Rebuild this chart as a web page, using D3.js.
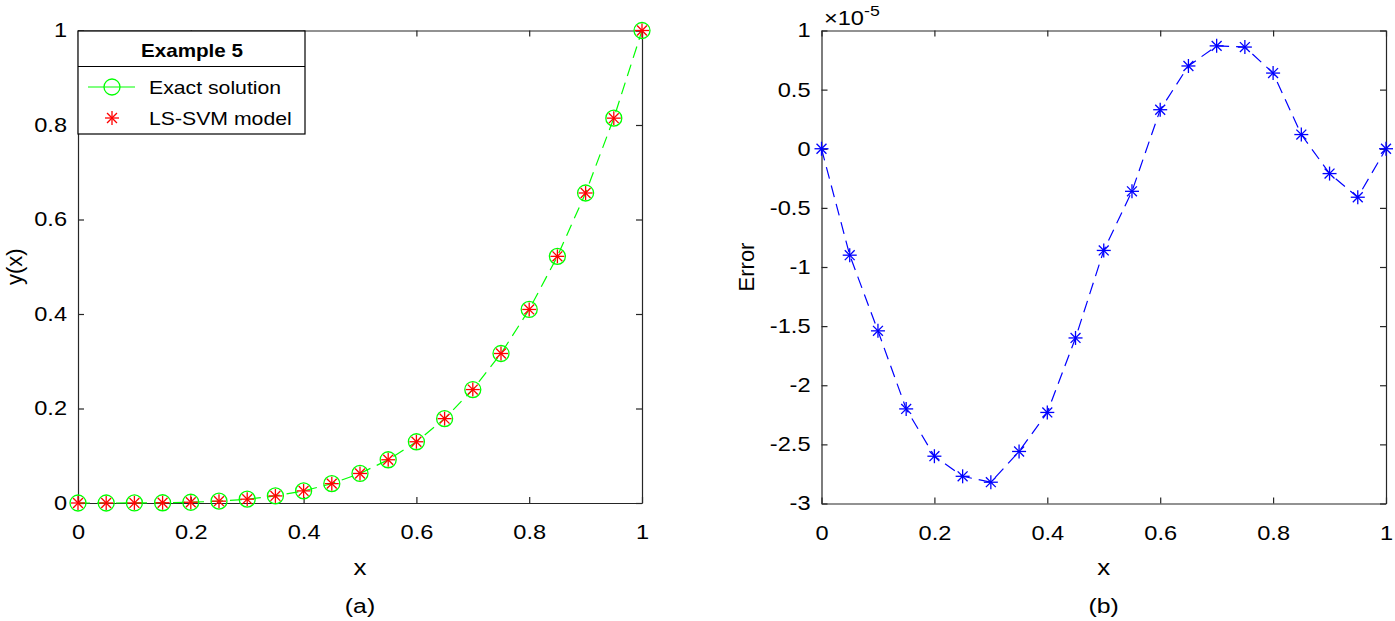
<html>
<head>
<meta charset="utf-8">
<script src="https://d3js.org/d3.v7.min.js"></script>
<style>
  body { margin: 0; background: #fff; }
  svg text { font-family: "Liberation Sans", Arial, sans-serif; fill: #000; }
</style>
</head>
<body>
<script>
var xs = [0, 0.05, 0.1, 0.15, 0.2, 0.25, 0.3, 0.35, 0.4, 0.45, 0.5, 0.55, 0.6, 0.65, 0.7, 0.75, 0.8, 0.85, 0.9, 0.95, 1];
var exactY = [0, 0.0000063, 0.0001, 0.0005, 0.0016, 0.0039, 0.0081, 0.015, 0.0256, 0.041, 0.0625, 0.0915, 0.1296, 0.1785, 0.2401, 0.3164, 0.4096, 0.522, 0.6561, 0.8145, 1];
var svmY = exactY.slice(); // model coincides with exact at plot scale
var errY = [0, -0.9, -1.54, -2.2, -2.6, -2.77, -2.82, -2.56, -2.23, -1.6, -0.86, -0.36, 0.33, 0.7, 0.87, 0.86, 0.64, 0.12, -0.21, -0.41, 0];
var xTicks = [0, 0.2, 0.4, 0.6, 0.8, 1];
var yTicksA = [0, 0.2, 0.4, 0.6, 0.8, 1];
var yTicksB = [-3, -2.5, -2, -1.5, -1, -0.5, 0, 0.5, 1];

var svg = d3.select("body").append("svg").attr("width", 1395).attr("height", 621);
var axisColor = "#262626";
var SX = 1.18; // glyphs in the reference are a bit wider than Liberation Sans

// widen a horizontal text around its own x anchor
function stretch(sel) {
  sel.each(function() {
    var t = d3.select(this);
    var x0 = +t.attr("x") || 0;
    t.attr("transform", "translate(" + x0 + ",0) scale(" + SX + ",1) translate(" + (-x0) + ",0)");
  });
}

function panel(left, right, top, bottom, yDomain, yTicks, xLab, yLab, cap, yLabX) {
  var x = d3.scaleLinear().domain([0, 1]).range([left, right]);
  var y = d3.scaleLinear().domain(yDomain).range([bottom, top]);
  var g = svg.append("g");
  var fmt = function(d) { return String(+d.toFixed(2)); };
  var ax = g.append("g").attr("transform", "translate(0," + bottom + ")")
    .call(d3.axisBottom(x).tickValues(xTicks).tickSizeInner(-6).tickSizeOuter(0).tickPadding(22).tickFormat(fmt));
  var ay = g.append("g").attr("transform", "translate(" + left + ",0)")
    .call(d3.axisLeft(y).tickValues(yTicks).tickSizeInner(-6).tickSizeOuter(0).tickPadding(11).tickFormat(fmt));
  var at = g.append("g").attr("transform", "translate(0," + top + ")")
    .call(d3.axisTop(x).tickValues(xTicks).tickSizeInner(-6).tickSizeOuter(0).tickFormat(""));
  var ar = g.append("g").attr("transform", "translate(" + right + ",0)")
    .call(d3.axisRight(y).tickValues(yTicks).tickSizeInner(-6).tickSizeOuter(0).tickFormat(""));
  [ax, ay, at, ar].forEach(function(a) {
    a.selectAll("path.domain").attr("stroke", axisColor).attr("stroke-width", 1.2);
    a.selectAll("line").attr("stroke", axisColor).attr("stroke-width", 1.2);
    a.selectAll("text").attr("font-size", 20).attr("fill", "#000")
      .style("font-family", "'Liberation Sans', Arial, sans-serif");
  });
  ax.selectAll("text").attr("dy", "0.71em").attr("y", 22);
  stretch(ax.selectAll("text"));
  stretch(ay.selectAll("text"));
  stretch(g.append("text").attr("x", (left + right) / 2).attr("y", 575).attr("text-anchor", "middle")
    .attr("font-size", 22).text(xLab));
  stretch(g.append("text").attr("x", (left + right) / 2).attr("y", 613).attr("text-anchor", "middle")
    .attr("font-size", 21).text(cap));
  g.append("text").attr("transform", "translate(" + yLabX + "," + (top + bottom) / 2 + ") rotate(-90)")
    .attr("text-anchor", "middle").attr("font-size", 22).text(yLab);
  return { x: x, y: y, g: g };
}

function asterisk(sel, r, color, w) {
  [0, 45, 90, 135].forEach(function(a) {
    var rad = a * Math.PI / 180;
    sel.append("line")
      .attr("x1", -r * Math.cos(rad)).attr("y1", -r * Math.sin(rad))
      .attr("x2", r * Math.cos(rad)).attr("y2", r * Math.sin(rad))
      .attr("stroke", color).attr("stroke-width", w);
  });
}

// ---- panel (a)
var pa = panel(78, 642, 30.5, 503, [0, 1], yTicksA, "x", "y(x)", "(a)", 22);
var lineA = d3.line().x(function(d, i) { return pa.x(xs[i]); }).y(function(d) { return pa.y(d); });
pa.g.append("path").datum(exactY).attr("d", lineA).attr("fill", "none")
  .attr("stroke", "#00ff00").attr("stroke-width", 1.2).attr("stroke-dasharray", "12,7");
pa.g.selectAll("circle.ex").data(exactY).enter().append("circle")
  .attr("cx", function(d, i) { return pa.x(xs[i]); }).attr("cy", function(d) { return pa.y(d); })
  .attr("r", 8).attr("fill", "none").attr("stroke", "#00ff00").attr("stroke-width", 1.3);
pa.g.selectAll("g.sv").data(svmY).enter().append("g")
  .attr("transform", function(d, i) { return "translate(" + pa.x(xs[i]) + "," + pa.y(d) + ")"; })
  .each(function() { asterisk(d3.select(this), 7, "#ff0000", 1.3); });

// legend
var lg = pa.g.append("g");
lg.append("rect").attr("x", 78).attr("y", 31).attr("width", 227).attr("height", 103)
  .attr("fill", "#fff").attr("stroke", "#000").attr("stroke-width", 1.2);
lg.append("line").attr("x1", 78).attr("x2", 305).attr("y1", 66.5).attr("y2", 66.5)
  .attr("stroke", "#000").attr("stroke-width", 1.2);
stretch(lg.append("text").attr("x", 192).attr("y", 57).attr("text-anchor", "middle")
  .attr("font-size", 17.5).attr("font-weight", "bold").text("Example 5"));
lg.append("line").attr("x1", 88).attr("x2", 135).attr("y1", 87).attr("y2", 87)
  .attr("stroke", "#00ff00").attr("stroke-width", 1.2);
lg.append("circle").attr("cx", 112).attr("cy", 87).attr("r", 8).attr("fill", "none")
  .attr("stroke", "#00ff00").attr("stroke-width", 1.3);
stretch(lg.append("text").attr("x", 149).attr("y", 94).attr("font-size", 18).text("Exact solution"));
asterisk(lg.append("g").attr("transform", "translate(112,118)"), 7, "#ff0000", 1.3);
stretch(lg.append("text").attr("x", 149).attr("y", 125).attr("font-size", 18).text("LS-SVM model"));

// ---- panel (b)
var pb = panel(821.5, 1386, 30.5, 503.5, [-3, 1], yTicksB, "x", "Error", "(b)", 754);
var lineB = d3.line().x(function(d, i) { return pb.x(xs[i]); }).y(function(d) { return pb.y(d); });
pb.g.append("path").datum(errY).attr("d", lineB).attr("fill", "none")
  .attr("stroke", "#0000ff").attr("stroke-width", 1.2).attr("stroke-dasharray", "12,7");
pb.g.selectAll("g.er").data(errY).enter().append("g")
  .attr("transform", function(d, i) { return "translate(" + pb.x(xs[i]) + "," + pb.y(d) + ")"; })
  .each(function() { asterisk(d3.select(this), 7, "#0000ff", 1.3); });
var ex = pb.g.append("text").attr("x", 824).attr("y", 25).attr("font-size", 20);
ex.append("tspan").text("\u00d710");
ex.append("tspan").attr("dy", -9).attr("font-size", 15).text("-5");
stretch(ex);
</script>
</body>
</html>
